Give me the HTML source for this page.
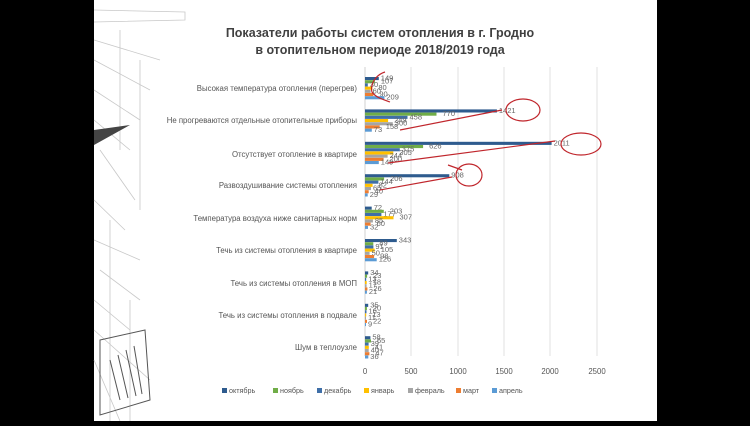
<!DOCTYPE html>
<html><head><meta charset="utf-8"><style>
body{margin:0;width:750px;height:421px;overflow:hidden;background:#000;font-family:"Liberation Sans",sans-serif}
</style></head><body>
<svg width="750" height="421" xmlns="http://www.w3.org/2000/svg" font-family="Liberation Sans, DejaVu Sans, sans-serif">
<rect x="94" y="0" width="563" height="421" fill="#fff"/>
<g stroke="#c8c8c8" stroke-width="0.8" fill="none">
<path d="M94 10 L185 12 L185 20 L94 22"/>
<path d="M94 40 L160 60 M94 60 L150 90 M94 90 L140 120 M94 120 L130 150 M100 150 L135 200 M94 200 L125 230 M94 240 L140 260 M100 270 L140 300 M94 300 L130 330 M94 330 L150 380 M94 360 L120 421"/>
<path d="M120 30 L120 150 M140 60 L140 210 M110 220 L110 421 M130 300 L130 421"/>
</g>
<g stroke="#555" stroke-width="1" fill="none">
<path d="M100 340 L145 330 L150 400 L100 415 Z M110 360 L120 400 M118 355 L128 398 M126 350 L136 396 M134 346 L142 394"/>
</g>
<path d="M94 130 L130 125 L94 145Z" fill="#444"/>
<text x="380" y="37" font-size="12.5" font-weight="bold" fill="#404040" text-anchor="middle">Показатели работы систем отопления в г. Гродно</text>
<text x="380" y="54" font-size="12.5" font-weight="bold" fill="#404040" text-anchor="middle">в отопительном периоде 2018/2019 года</text>
<g stroke="#e2e2e2" stroke-width="1">
<line x1="411" y1="67" x2="411" y2="356"/><line x1="458" y1="67" x2="458" y2="356"/><line x1="504" y1="67" x2="504" y2="356"/><line x1="550" y1="67" x2="550" y2="356"/><line x1="597" y1="67" x2="597" y2="356"/>
</g>
<line x1="365" y1="67" x2="365" y2="356" stroke="#d0d0d0"/>
<g font-size="7.8" fill="#555" text-anchor="end">
<text x="357" y="91">Высокая температура отопления (перегрев)</text>
<text x="357" y="123">Не прогреваются отдельные  отопительные приборы</text>
<text x="357" y="157">Отсутствует отопление в квартире</text>
<text x="357" y="188">Развоздушивание системы отопления</text>
<text x="357" y="221">Температура воздуха ниже санитарных норм</text>
<text x="357" y="253">Течь из системы отопления в квартире</text>
<text x="357" y="286">Течь из системы отопления в МОП</text>
<text x="357" y="318">Течь из системы отопления в подвале</text>
<text x="357" y="350">Шум в теплоузле</text>
</g>
<g font-size="7.8" fill="#555" text-anchor="middle">
<text x="365" y="374">0</text><text x="411" y="374">500</text><text x="458" y="374">1000</text><text x="504" y="374">1500</text><text x="550" y="374">2000</text><text x="597" y="374">2500</text>
</g>
<g id="bars"></g>
<g font-size="7.2" fill="#555">
<rect x="222" y="388" width="5" height="5" fill="#2e5b8e"/><text x="229" y="393">октябрь</text>
<rect x="273" y="388" width="5" height="5" fill="#70ad47"/><text x="280" y="393">ноябрь</text>
<rect x="317" y="388" width="5" height="5" fill="#3f6fa8"/><text x="324" y="393">декабрь</text>
<rect x="364" y="388" width="5" height="5" fill="#ffc000"/><text x="371" y="393">январь</text>
<rect x="408" y="388" width="5" height="5" fill="#a5a5a5"/><text x="415" y="393">февраль</text>
<rect x="456" y="388" width="5" height="5" fill="#ed7d31"/><text x="463" y="393">март</text>
<rect x="492" y="388" width="5" height="5" fill="#5b9bd5"/><text x="499" y="393">апрель</text>
</g>
<g stroke="#c0262c" stroke-width="1.2" fill="none">
<ellipse cx="523" cy="110" rx="17" ry="11"/>
<path d="M400 130 L502 110"/>
<ellipse cx="581" cy="144" rx="20" ry="11"/>
<path d="M388 163 L555 141"/>
<ellipse cx="469" cy="175" rx="13" ry="11"/>
<path d="M380 190 L452 177 M448 165 L462 170"/>
<path d="M385 72 C375 75 370 85 372 92 C376 98 385 100 390 102"/>
</g>
</svg>
<script>
var data=[[149,107,30,80,60,90,209],[1421,770,458,249,300,158,73],[2011,626,375,305,244,200,149],[908,206,144,82,65,40,29],[72,203,177,307,85,60,32],[343,89,91,105,50,98,126],[34,23,13,18,17,26,21],[35,20,16,13,11,22,9],[58,65,39,41,40,47,36]];
var col=["#2e5b8e","#70ad47","#3f6fa8","#ffc000","#a5a5a5","#ed7d31","#5b9bd5"];
var g=document.getElementById("bars"),s="",k=0.0928;
data.forEach(function(r,i){var yc=88+32.4*i;r.forEach(function(v,j){var y=yc-11+j*3.2,w=Math.max(1,v*k);
s+='<rect x="365" y="'+y.toFixed(1)+'" width="'+w.toFixed(1)+'" height="3.1" fill="'+col[j]+'"/>';
s+='<text x="'+(365+w+2+(j%2)*4).toFixed(1)+'" y="'+(y+3.5).toFixed(1)+'" font-size="7.5" fill="#666">'+v+'</text>';});});
g.innerHTML=s;
</script>
</body></html>
